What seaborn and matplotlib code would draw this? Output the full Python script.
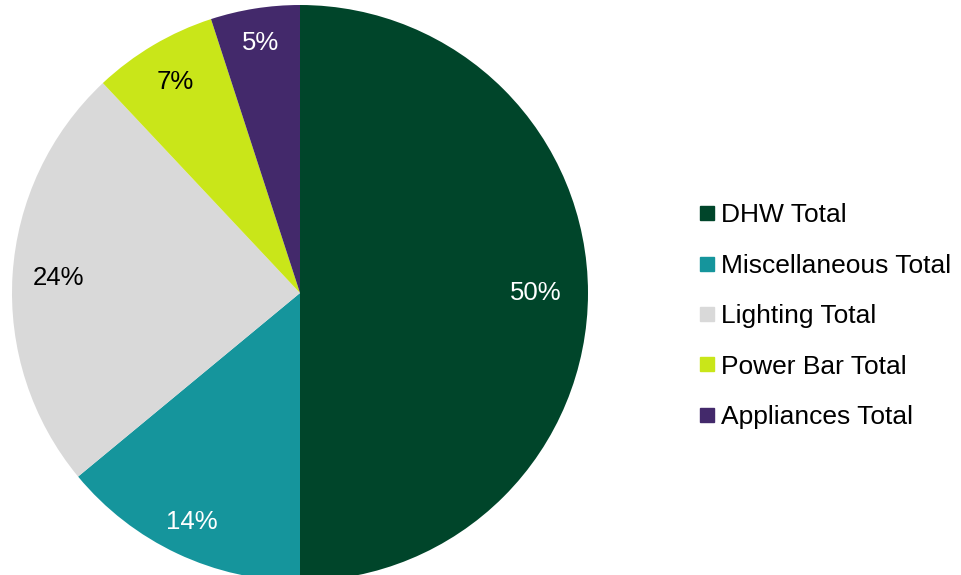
import matplotlib
matplotlib.use("Agg")
import matplotlib.pyplot as plt
from matplotlib.lines import Line2D
import seaborn as sns

# Energy end-use breakdown
categories = ["DHW Total", "Miscellaneous Total", "Lighting Total",
              "Power Bar Total", "Appliances Total"]
shares = [50, 14, 24, 7, 5]
hex_colors = ["#00452A", "#15959C", "#D9D9D9", "#C9E619", "#43296B"]
label_colors = ["white", "white", "black", "black", "white"]

sns.set_theme(style="white")
plt.rcParams["font.family"] = ["Liberation Sans", "DejaVu Sans"]
plt.rcParams["text.color"] = "black"

palette = sns.color_palette(hex_colors)

fig = plt.figure(figsize=(9.62, 5.75), dpi=100)
fig.patch.set_facecolor("white")

# pie occupies a square region on the left
ax = fig.add_axes([12 / 962, -6 / 575, 576 / 962, 576 / 575])
wedges, texts, autotexts = ax.pie(
    shares,
    colors=palette,
    startangle=90,
    counterclock=False,
    autopct=lambda p: f"{p:.0f}%",
    pctdistance=0.85,
    radius=1.0,
    wedgeprops=dict(linewidth=0),
    textprops=dict(fontsize=18.5),
)
# nudge each percentage label along its wedge's bisector
label_radius = [0.82, 0.88, 0.84, 0.85, 0.88]
for t, c, r in zip(autotexts, label_colors, label_radius):
    t.set_color(c)
    x, y = t.get_position()
    scale = r / 0.85
    t.set_position((x * scale, y * scale))
ax.set_xlim(-1, 1)
ax.set_ylim(-1, 1)
ax.set_aspect("equal")
ax.axis("off")

handles = [Line2D([0], [0], marker="s", linestyle="none", markersize=9.5,
                  markerfacecolor=c, markeredgecolor=c) for c in palette]
leg = fig.legend(handles, categories, loc="center left",
                 bbox_to_anchor=(0.715, 0.450), frameon=False, fontsize=19,
                 labelspacing=1.0, handlelength=0.65, handletextpad=0.2,
                 borderaxespad=0)
for t in leg.get_texts():
    t.set_color("black")

fig.savefig("out.png", dpi=100, facecolor="white")
